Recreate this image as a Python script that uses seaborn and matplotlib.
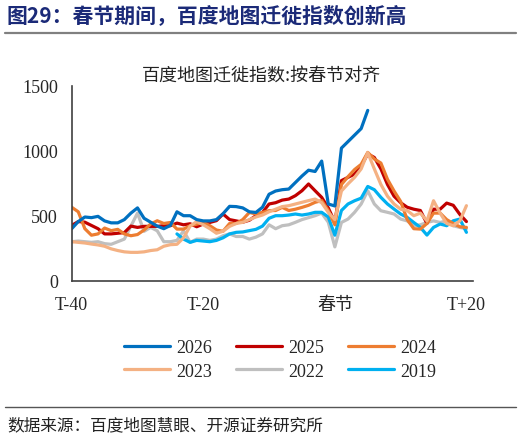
import numpy as np
import pandas as pd
import seaborn as sns
import matplotlib.pyplot as plt
from matplotlib.lines import Line2D

# giorni rispetto al capodanno cinese (T-40 ... T+20)
giorni = list(range(-40, 21))

idx_2026 = [400, 455, 490, 485, 495, 460, 445, 445, 470, 520,
            560, 480, 450, 420, 400, 425, 530, 500, 500, 470,
            460, 460, 470, 515, 572, 570, 560, 530, 525, 565,
            665, 690, 700, 705, 755, 805, 850, 840, 920, 590,
            575, 1020, 1070, 1120, 1170, 1310]
idx_2025 = [425, 455, 450, 425, 400, 360, 360, 365, 370, 420,
            410, 418, 418, 418, 423, 423, 443, 430, 438, 415,
            436, 448, 462, 513, 470, 460, 450, 465, 500, 525,
            590, 600, 620, 628, 654, 692, 744, 692, 641, 560,
            450, 770, 795, 820, 884, 975, 948, 860, 740, 650,
            600, 565, 550, 540, 440, 550, 550, 597, 580, 510, 455]
idx_2024 = [565, 530, 400, 350, 360, 405, 385, 395, 360, 346,
            355, 390, 436, 461, 440, 448, 397, 397, 423, 435,
            448, 423, 390, 380, 440, 440, 470, 525, 513, 525,
            539, 540, 564, 540, 550, 564, 580, 603, 616, 540,
            430, 740, 800, 855, 895, 987, 936, 905, 780, 690,
            610, 470, 400, 397, 440, 520, 520, 470, 440, 415, 410]
idx_2023 = [300, 295, 290, 282, 275, 265, 245, 232, 222, 218,
            218, 222, 232, 238, 265, 277, 280, 330, 420, 455,
            430, 400, 365, 380, 418, 440, 449, 470, 490, 505,
            530, 550, 570, 577, 590, 603, 616, 628, 600, 526,
            470, 690, 745, 795, 860, 985, 860, 740, 650, 590,
            550, 540, 500, 520, 460, 615, 520, 440, 423, 460, 577]
idx_2022 = [300, 305, 300, 295, 300, 285, 280, 300, 320, 420,
            520, 380, 410, 384, 300, 300, 310, 384, 295, 320,
            320, 310, 320, 346, 360, 340, 340, 320, 335, 360,
            430, 400, 423, 430, 449, 470, 485, 500, 520, 450,
            260, 448, 474, 526, 590, 692, 590, 538, 526, 513,
            474, 460, 423, 430, 448, 460, 448, 460, 423, 410, 400]
idx_2019 = [360, 320, 295, 310, 305, 300, 310, 330, 360, 372,
            375, 385, 395, 420, 480, 500, 500, 505, 513, 505,
            513, 526, 526, 490, 350, 540, 590, 615, 635, 725,
            700, 641, 590, 551, 513, 487, 448, 410, 351, 410,
            436, 423, 461, 474, 372]

serie = {
    "2026": (giorni[:len(idx_2026)], idx_2026),
    "2025": (giorni, idx_2025),
    "2024": (giorni, idx_2024),
    "2023": (giorni, idx_2023),
    "2022": (giorni, idx_2022),
    "2019": (giorni[-len(idx_2019):], idx_2019),
}
colori = {"2026": "#0070C0", "2025": "#C00000", "2024": "#ED7D31",
          "2023": "#F4B183", "2022": "#BFBFBF", "2019": "#00B0F0"}
# la legenda si riempie per colonne: cosi le righe sono 2026/2025/2024 e 2023/2022/2019
ordine_legenda = ["2026", "2023", "2025", "2022", "2024", "2019"]
ordine_disegno = ["2022", "2019", "2025", "2024", "2023", "2026"]

righe = []
for anno, (xs, ys) in serie.items():
    for x, y in zip(xs, ys):
        righe.append({"giorno": x, "indice": y, "anno": anno})
df = pd.DataFrame(righe)

sns.set_style("white")
plt.rcParams['font.family'] = ['Liberation Serif', 'Noto Sans CJK SC', 'DejaVu Sans']

fig = plt.figure(figsize=(5.22, 4.39), dpi=100)
ax = fig.add_axes([71.7 / 522, 1 - 281.7 / 439, (473 - 71.7) / 522, (281.7 - 86.7) / 439])

sns.lineplot(data=df, x="giorno", y="indice", hue="anno", hue_order=ordine_disegno,
             palette=colori, linewidth=2.3, ax=ax, legend=True)

ax.set_xlim(-40, 21)
ax.set_ylim(0, 1500)
ax.set_xticks(range(-40, 21, 5))
ax.set_xticklabels(["T-40", "", "", "", "T-20", "", "", "", "春节", "", "", "", "T+20"])
ax.set_yticks([0, 500, 1000, 1500])
ax.set_xlabel("")
ax.set_ylabel("")
ax.tick_params(direction="in", length=5, width=1.2, color="#404040", labelsize=13, pad=10)
ax.tick_params(axis="x", pad=11)
for lab in ax.get_xticklabels():
    lab.set_family(['Liberation Serif', 'Noto Sans CJK SC'])
for s in ["top", "right"]:
    ax.spines[s].set_visible(False)
for s in ["left", "bottom"]:
    ax.spines[s].set_color("#404040")
    ax.spines[s].set_linewidth(1.2)

handles, labels = ax.get_legend_handles_labels()
mappa = dict(zip(labels, handles))
ax.get_legend().remove()
fig.legend([mappa[a] for a in ordine_legenda], ordine_legenda, loc="center",
           bbox_to_anchor=(280 / 522, 1 - 360.5 / 439), ncol=3, frameon=False,
           fontsize=13, handlelength=2.55, handletextpad=0.35, columnspacing=1.3,
           labelspacing=0.35)

# titoli e note
fig.text(7 / 522, 1 - 16.5 / 439, "图29：春节期间，百度地图迁徙指数创新高", fontsize=15,
         fontweight="bold", color="#1B2A78", va="center", ha="left",
         family=['Noto Sans CJK SC', 'DejaVu Sans'])
fig.add_artist(Line2D([5 / 522, 516 / 522], [1 - 33.5 / 439] * 2, color="#808080", lw=1.6))
fig.text(261 / 522, 1 - 75.5 / 439, "百度地图迁徙指数:按春节对齐", fontsize=13,
         color="#222222", va="center", ha="center", family=['Noto Sans CJK SC', 'DejaVu Sans'])
fig.add_artist(Line2D([5 / 522, 516 / 522], [1 - 408 / 439] * 2, color="#555555", lw=1.0))
fig.text(7 / 522, 1 - 425.5 / 439, "数据来源：百度地图慧眼、开源证券研究所", fontsize=12,
         color="#222222", va="center", ha="left", family=['Noto Sans CJK SC', 'DejaVu Sans'])

plt.savefig("out.png", dpi=100)
plt.close()
